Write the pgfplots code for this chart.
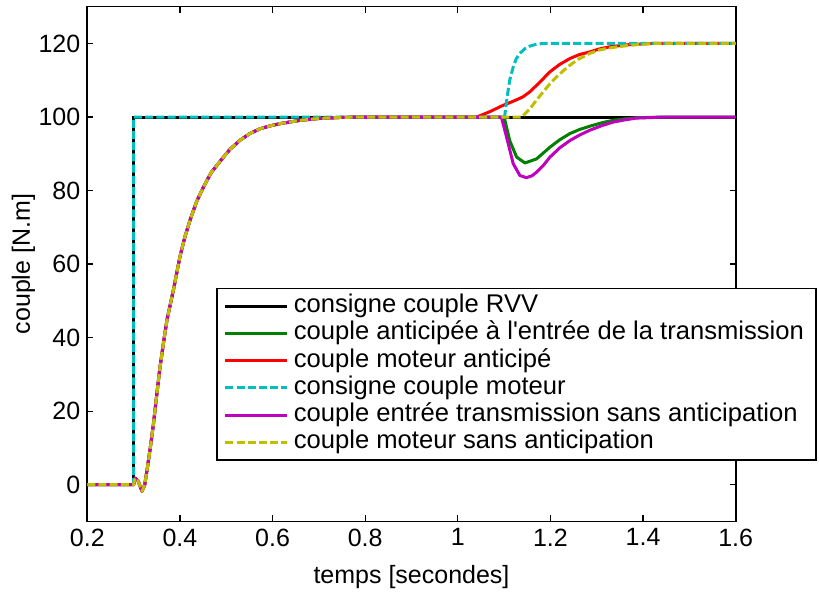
\documentclass[border=0pt]{standalone}
\usepackage{fontspec}
\setmainfont{Liberation Sans}[Ligatures=TeXOff]
\usepackage{pgfplots}
\pgfplotsset{compat=1.18}
\definecolor{mgreen}{rgb}{0,0.5,0}
\definecolor{mred}{rgb}{1,0,0}
\definecolor{mcyan}{rgb}{0,0.75,0.75}
\definecolor{mmag}{rgb}{0.75,0,0.75}
\definecolor{myel}{rgb}{0.75,0.75,0}
\begin{document}
\begin{tikzpicture}
\useasboundingbox (-43.65pt,-35.25pt) rectangle (365.85pt,260.75pt);
\begin{axis}[
  at={(0pt,0pt)}, anchor=south west,
  scale only axis, width=324.2pt, height=257.4pt,
  xmin=0.2, xmax=1.6, ymin=-10, ymax=130,
  xtick={0.2,0.4,0.6,0.8,1,1.2,1.4,1.6},
  ytick={0,20,40,60,80,100,120},
  tick align=inside, major tick length=3pt,
  tick style={black, line width=0.6pt},
  axis line style={line width=0.8pt},
  /pgf/number format/assume math mode=true,
  tick label style={font=\fontsize{12.5}{15}\selectfont},
  label style={font=\fontsize{12.5}{15}\selectfont},
  xlabel={temps [secondes]},
  ylabel={couple [N.m]},
  xlabel style={at={(axis description cs:0.5,-0.108)}, anchor=center},
  ylabel style={at={(axis description cs:-0.0987,0.5)}, anchor=center},
  legend cell align=left,
  legend style={at={(0.1988,0.4535)}, anchor=north west,
    font=\fontsize{12.8}{15}\selectfont, draw=black, line width=0.7pt,
    inner xsep=3.5pt, inner ysep=2pt, row sep=0pt,
    nodes={inner ysep=0pt, inner xsep=2.5pt, text height=10pt, text depth=3.6pt}},
  legend image code/.code={\draw[#1] (0pt,0pt) -- (31pt,0pt);},
]
\addplot[black, line width=1.5pt] coordinates {(0.2,0) (0.3,0) (0.3,100) (1.6,100)};
\addlegendentry{consigne couple RVV}
\addplot[mgreen, line width=1.5pt, line join=round] coordinates {(0.2,0) (0.30,0) (0.303,1.8) (0.31,1) (0.318,-1.8) (0.324,0) (0.329,4) (0.336,10) (0.343,16.7) (0.350,24.5) (0.357,32) (0.365,39) (0.372,44.8) (0.386,53) (0.400,62) (0.411,67.5) (0.422,72) (0.436,77) (0.451,81) (0.468,85) (0.487,88) (0.508,91.2) (0.530,93.7) (0.551,95.5) (0.573,96.8) (0.595,97.6) (0.616,98.2) (0.66,99.1) (0.70,99.6) (0.75,99.9) (0.80,100)
 (1.10,100) (1.112,93.6) (1.127,89.1) (1.145,87.5) (1.170,88.6) (1.199,91.8) (1.22,93.8) (1.242,95.5) (1.263,96.6) (1.285,97.5) (1.31,98.4) (1.335,99.1) (1.36,99.5) (1.385,99.8) (1.45,100) (1.6,100)};
\addlegendentry{couple anticipée à l'entrée de la transmission}
\addplot[mred, line width=1.5pt, line join=round] coordinates {(0.2,0) (0.30,0) (0.303,1.8) (0.31,1) (0.318,-1.8) (0.324,0) (0.329,4) (0.336,10) (0.343,16.7) (0.350,24.5) (0.357,32) (0.365,39) (0.372,44.8) (0.386,53) (0.400,62) (0.411,67.5) (0.422,72) (0.436,77) (0.451,81) (0.468,85) (0.487,88) (0.508,91.2) (0.530,93.7) (0.551,95.5) (0.573,96.8) (0.595,97.6) (0.616,98.2) (0.66,99.1) (0.70,99.6) (0.75,99.9) (0.80,100)
 (1.041,100) (1.07,101.5) (1.098,103.2) (1.12,104.3) (1.141,105.5) (1.155,106.8) (1.170,108.6) (1.185,110.5) (1.199,112.3) (1.22,114.3) (1.242,115.9) (1.263,117) (1.285,117.7) (1.305,118.5) (1.328,119.1) (1.371,119.7) (1.42,120) (1.6,120)};
\addlegendentry{couple moteur anticipé}
\addplot[mcyan, line width=1.5pt, line join=round, dash pattern=on 4pt off 1.6pt] coordinates {(0.2,0) (0.3,0) (0.3,100) (1.101,100) (1.106,105) (1.112,110) (1.1196,113.6) (1.126,115.8) (1.134,117.3) (1.145,118.6) (1.156,119.3) (1.17,119.8) (1.185,120) (1.6,120)};
\addlegendentry{consigne couple moteur}
\addplot[mmag, line width=1.5pt, line join=round] coordinates {(0.2,0) (0.30,0) (0.303,1.8) (0.31,1) (0.318,-1.8) (0.324,0) (0.329,4) (0.336,10) (0.343,16.7) (0.350,24.5) (0.357,32) (0.365,39) (0.372,44.8) (0.386,53) (0.400,62) (0.411,67.5) (0.422,72) (0.436,77) (0.451,81) (0.468,85) (0.487,88) (0.508,91.2) (0.530,93.7) (0.551,95.5) (0.573,96.8) (0.595,97.6) (0.616,98.2) (0.66,99.1) (0.70,99.6) (0.75,99.9) (0.80,100)
 (1.094,100) (1.109,92.7) (1.1196,87.3) (1.134,84.1) (1.148,83.5) (1.160,84) (1.170,85) (1.185,86.9) (1.199,89.1) (1.22,91.6) (1.242,93.6) (1.263,95.1) (1.285,96.4) (1.31,97.6) (1.335,98.6) (1.36,99.2) (1.385,99.7) (1.45,100) (1.6,100)};
\addlegendentry{couple entrée transmission sans anticipation}
\addplot[myel, line width=1.5pt, line join=round, dash pattern=on 4pt off 1.6pt] coordinates {(0.2,0) (0.30,0) (0.303,1.8) (0.31,1) (0.318,-1.8) (0.324,0) (0.329,4) (0.336,10) (0.343,16.7) (0.350,24.5) (0.357,32) (0.365,39) (0.372,44.8) (0.386,53) (0.400,62) (0.411,67.5) (0.422,72) (0.436,77) (0.451,81) (0.468,85) (0.487,88) (0.508,91.2) (0.530,93.7) (0.551,95.5) (0.573,96.8) (0.595,97.6) (0.616,98.2) (0.66,99.1) (0.70,99.6) (0.75,99.9) (0.80,100)
 (1.138,100) (1.156,102.3) (1.17,104.6) (1.184,106.8) (1.198,108.9) (1.213,110.9) (1.228,112.6) (1.242,114.1) (1.263,115.9) (1.285,117.3) (1.305,118.2) (1.328,118.8) (1.371,119.5) (1.42,120) (1.6,120)};
\addlegendentry{couple moteur sans anticipation}
\end{axis}
\end{tikzpicture}
\end{document}
